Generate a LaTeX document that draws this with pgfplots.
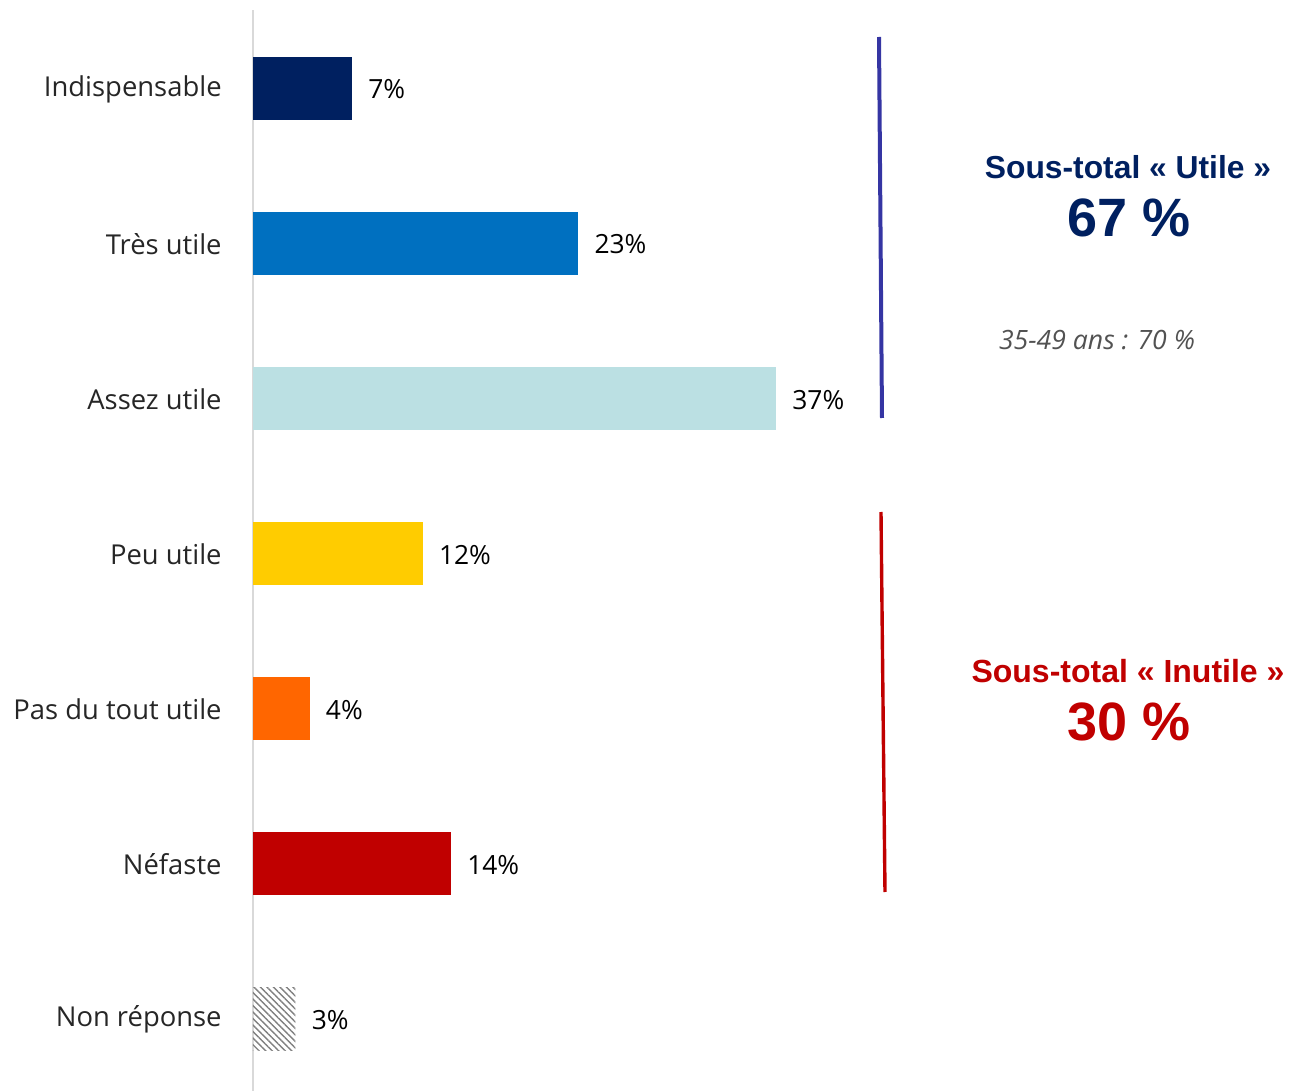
\documentclass[border=0pt]{standalone}
\usepackage{fontspec}
\setmainfont{Open Sans}
\newfontfamily\arial{Liberation Sans}
\usepackage{pgfplots}
\pgfplotsset{compat=1.18}
\usetikzlibrary{patterns.meta}

\definecolor{navyc}{HTML}{002060}
\definecolor{bluec}{HTML}{0070C0}
\definecolor{paleblue}{HTML}{BBE0E3}
\definecolor{yellowc}{HTML}{FFCC00}
\definecolor{orangec}{HTML}{FF6600}
\definecolor{redc}{HTML}{C00000}
\definecolor{linblue}{HTML}{3535A3}
\definecolor{axisgray}{HTML}{D9D9D9}

% one pixel of the reference = 0.5pt
\newcommand{\px}[2]{({0.5*#1pt},{-0.5*#2pt})}

\begin{document}
\begin{tikzpicture}
\useasboundingbox (0,0) rectangle (649pt,-545.5pt);

\begin{axis}[
    at={(126.5pt,-545.5pt)}, anchor=south west,
    scale only axis,
    width=282.7pt, height=540.5pt,
    xmin=0, xmax=40, ymin=-0.464, ymax=6.506,
    axis x line=none,
    axis y line*=left,
    y axis line style={draw=axisgray, line width=1.2pt, -},
    ytick={0,1,2,3,4,5,6},
    yticklabels={Non réponse, Néfaste, Pas du tout utile, Peu utile, Assez utile, Très utile, Indispensable},
    major tick length=0pt,
    yticklabel style={font=\fontsize{13.7}{16}\selectfont, text=black!85, inner sep=0pt, xshift=-15.5pt, yshift=-0.3pt},
    xbar, bar width=31.5pt, bar shift=0pt,
    /pgf/number format/assume math mode=true,
    nodes near coords={\pgfmathprintnumber{\pgfplotspointmeta}\%},
    nodes near coords style={anchor=west, inner sep=0pt, xshift=8pt, yshift=-0.5pt, font=\fontsize{13.2}{15}\selectfont, text=black},
]
\addplot[fill=navyc, draw=none] coordinates {(7,6)};
\addplot[fill=bluec, draw=none] coordinates {(23,5)};
\addplot[fill=paleblue, draw=none] coordinates {(37,4)};
\addplot[fill=yellowc, draw=none] coordinates {(12,3)};
\addplot[fill=orangec, draw=none] coordinates {(4,2)};
\addplot[fill=redc, draw=none] coordinates {(14,1)};
\addplot[draw=none, pattern={Lines[angle=-45, distance=2.3pt, line width=0.7pt]}, pattern color=gray] coordinates {(3,0)};
\end{axis}

% brackets
\draw[line width=2pt, linblue] \px{879}{37} -- \px{882}{418};
\draw[line width=1.7pt, redc] \px{881}{512} -- \px{885}{892};

% subtotals
\node[font=\arial\bfseries\fontsize{15.9}{18}\selectfont, text=navyc] at \px{1128}{167} {Sous-total «~Utile~»};
\node[font=\arial\bfseries\fontsize{27}{30}\selectfont, text=navyc] at \px{1129}{218} {67 \%};
\node[font=\itshape\fontsize{13.3}{15}\selectfont, text=black!68] at \px{1097}{340} {35-49 ans : 70 \%};
\node[font=\arial\bfseries\fontsize{16}{18}\selectfont, text=redc] at \px{1128}{671} {Sous-total «~Inutile~»};
\node[font=\arial\bfseries\fontsize{27}{30}\selectfont, text=redc] at \px{1129}{722} {30 \%};
\end{tikzpicture}
\end{document}
